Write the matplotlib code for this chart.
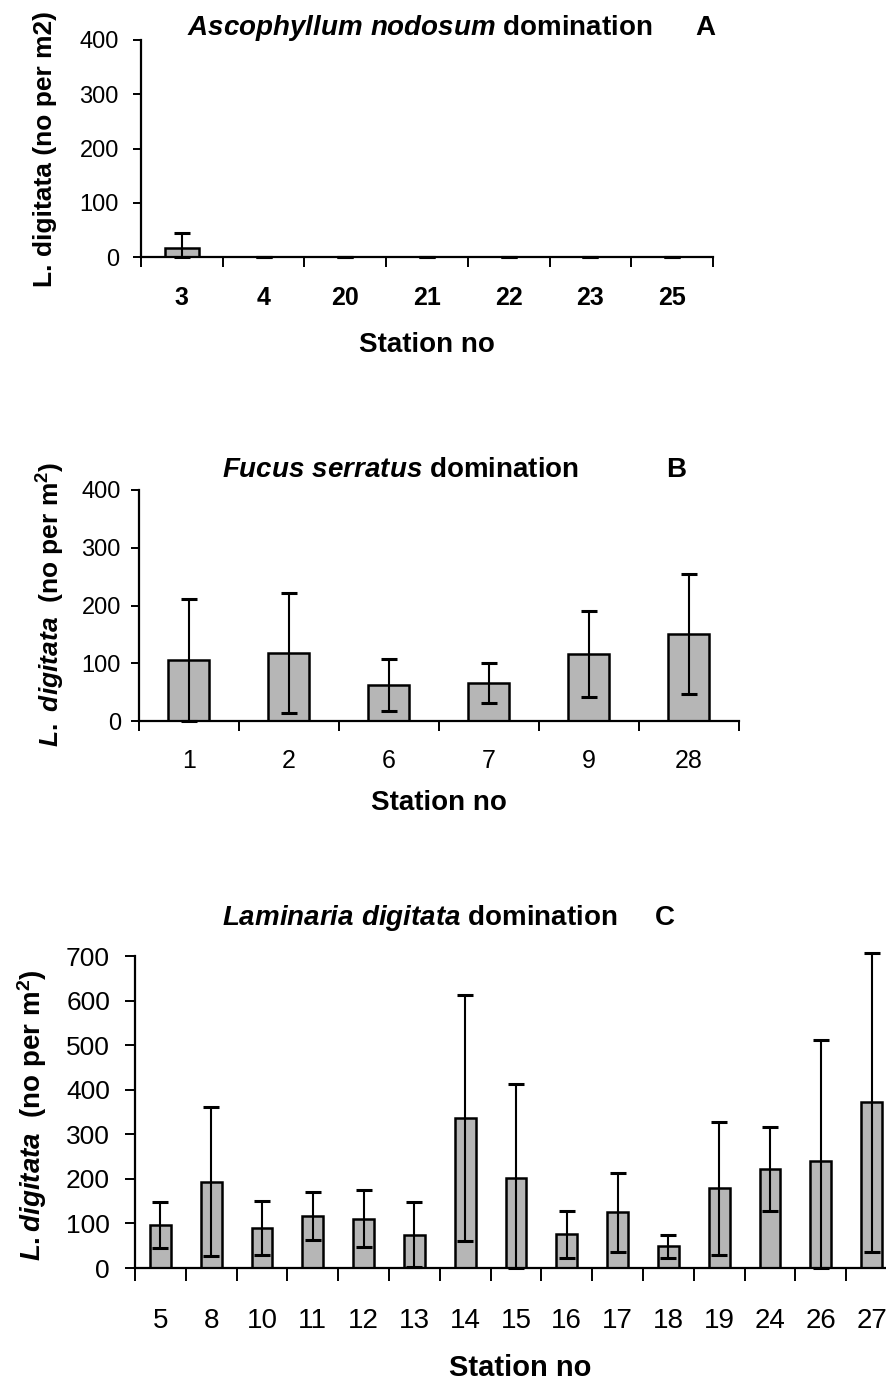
import numpy as np
import matplotlib
matplotlib.use('Agg')
import matplotlib.pyplot as plt

plt.rcParams['font.family'] = ['Liberation Sans', 'DejaVu Sans']
plt.rcParams['mathtext.fontset'] = 'custom'
plt.rcParams['mathtext.it'] = 'Liberation Sans:italic:bold'
plt.rcParams['mathtext.rm'] = 'Liberation Sans:bold'
plt.rcParams['mathtext.bf'] = 'Liberation Sans:bold'

# --- data (no per m2, mean and SD) ---
stations_a = ['3', '4', '20', '21', '22', '23', '25']
mean_a = [17, 0, 0, 0, 0, 0, 0]
sd_a = [27, 0, 0, 0, 0, 0, 0]

stations_b = ['1', '2', '6', '7', '9', '28']
mean_b = [105, 118, 62, 66, 116, 150]
sd_b = [106, 104, 45, 34, 74, 104]

stations_c = ['5', '8', '10', '11', '12', '13', '14', '15', '16', '17', '18', '19', '24', '26', '27']
mean_c = [96, 194, 90, 116, 111, 75, 337, 203, 76, 125, 49, 179, 222, 240, 372]
sd_c = [51, 167, 61, 54, 64, 72, 276, 209, 53, 88, 26, 149, 94, 271, 335]

W, H = 887, 1392
BAR_COLOR = '#b6b6b6'


def box(left, right, top, zero):
    return [left / W, 1 - zero / H, (right - left) / W, (zero - top) / H]


def ftext(fig, x, y, s, **kw):
    fig.text(x / W, 1 - y / H, s, ha='center', va='center', **kw)


def draw_panel(ax, stations, mean, sd, ymax, tick_size, tick_bold,
               ytick_size, xlen, xpad, ylen, ypad):
    mean = np.array(mean, dtype=float)
    sd = np.array(sd, dtype=float)
    n = len(stations)
    x = np.arange(n)
    ax.bar(x, mean, width=0.41, color=BAR_COLOR, edgecolor='black',
           linewidth=1.8, zorder=2)
    eb = ax.errorbar(x, mean, yerr=[np.minimum(sd, mean), sd], fmt='none',
                     ecolor='black', elinewidth=1.5, capsize=5.5, capthick=2.2,
                     zorder=3)
    for art in list(eb.lines[1]) + list(eb.lines[2]):
        art.set_clip_on(False)

    ax.set_xlim(-0.5, n - 0.5)
    ax.set_ylim(0, ymax)
    ax.set_yticks(np.arange(0, ymax + 1, 100))
    ax.set_xticks(np.arange(n + 1) - 0.5)
    ax.set_xticks(x, minor=True)
    ax.set_xticklabels(stations, minor=True, fontsize=tick_size,
                       fontweight='bold' if tick_bold else 'normal')
    ax.tick_params(axis='x', which='major', length=xlen, width=1.4,
                   labelbottom=False)
    ax.tick_params(axis='x', which='minor', length=0, pad=xpad)
    ax.tick_params(axis='y', length=ylen, width=1.4, pad=ypad,
                   labelsize=ytick_size)
    for side in ['top', 'right']:
        ax.spines[side].set_visible(False)
    for side in ['left', 'bottom']:
        ax.spines[side].set_linewidth(1.6)
    ax.patch.set_alpha(0)


fig = plt.figure(figsize=(W / 100, H / 100), dpi=100)

# panel A
ax_a = fig.add_axes(box(141, 713, 40, 257))
draw_panel(ax_a, stations_a, mean_a, sd_a, 400, 18, True, 17, 7, 21, 6, 10)
ftext(fig, 420, 28, r'$\mathit{Ascophyllum\ nodosum}$ domination',
      fontsize=20, fontweight='bold')
ftext(fig, 705, 28, 'A', fontsize=20, fontweight='bold')
ftext(fig, 427, 345, 'Station no', fontsize=20, fontweight='bold')
ftext(fig, 45, 149, 'L. digitata (no per m2)', fontsize=19,
      fontweight='bold', rotation=90)

# panel B
ax_b = fig.add_axes(box(139, 739, 490, 721))
draw_panel(ax_b, stations_b, mean_b, sd_b, 400, 18, False, 17, 7, 20, 6, 7)
ftext(fig, 400, 470, r'$\mathit{Fucus\ serratus}$ domination',
      fontsize=20, fontweight='bold')
ftext(fig, 676, 470, 'B', fontsize=20, fontweight='bold')
ftext(fig, 439, 803, 'Station no', fontsize=20, fontweight='bold')
ftext(fig, 51, 604, r'$\mathit{L.\ digitata}$  (no per $\mathrm{m}^{2}$)',
      fontsize=19, fontweight='bold', rotation=90)

# panel C
ax_c = fig.add_axes(box(135, 897, 956, 1268))
draw_panel(ax_c, stations_c, mean_c, sd_c, 700, 20, False, 19, 9, 29, 7, 11)
ftext(fig, 420, 918, r'$\mathit{Laminaria\ digitata}$ domination',
      fontsize=20, fontweight='bold')
ftext(fig, 665, 918, 'C', fontsize=20, fontweight='bold')
ftext(fig, 520, 1368, 'Station no', fontsize=21, fontweight='bold')
ftext(fig, 32, 1115, r'$\mathit{L.digitata}$  (no per $\mathrm{m}^{2}$)',
      fontsize=20, fontweight='bold', rotation=90)

fig.savefig('out.png', dpi=100, facecolor='white')
